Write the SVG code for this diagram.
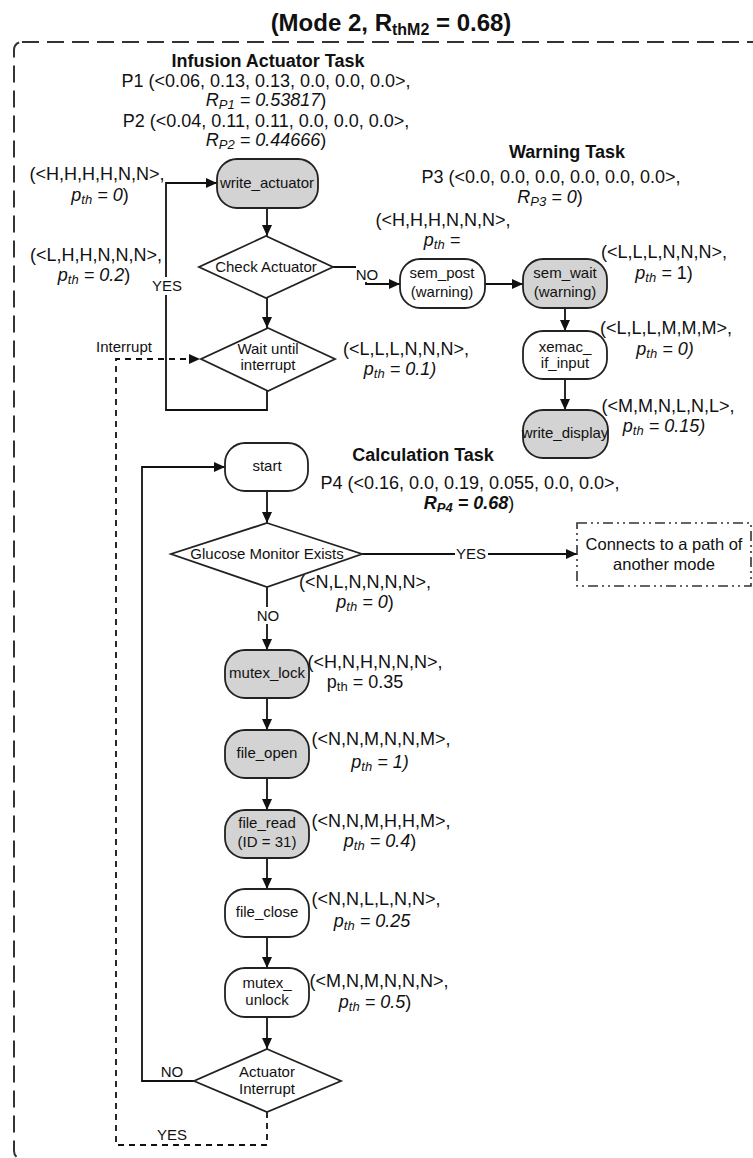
<svg xmlns="http://www.w3.org/2000/svg" width="753" height="1158" viewBox="0 0 753 1158">
<defs>
<marker id="ah" markerUnits="userSpaceOnUse" markerWidth="12" markerHeight="10" refX="11" refY="5" orient="auto">
<path d="M0,0 L11,5 L0,10 z" fill="#111"/>
</marker>
<style>
text{font-family:"Liberation Sans",Arial,sans-serif;fill:#111}
.lbl{font-size:18px;text-anchor:middle}
.hd{font-size:18px;font-weight:bold;text-anchor:middle}
.nt{font-size:15px;text-anchor:middle}
.it{font-style:italic}
.sb{font-size:13px}
.box{stroke:#222;stroke-width:1.8}
.g{fill:#d3d3d3}
.w{fill:#fff}
.ln{fill:none;stroke:#111;stroke-width:1.8}
.dl{fill:none;stroke:#111;stroke-width:1.8;stroke-dasharray:6,5}
</style>
</defs>
<rect width="753" height="1158" fill="#fff"/>
<g id="frame">
<rect x="14" y="42" width="800" height="1117" rx="8" fill="none" stroke="#333" stroke-width="2" stroke-dasharray="17,8"/>
<text x="391" y="31" text-anchor="middle" font-size="24" font-weight="bold">(Mode 2, R<tspan font-size="16" dy="4">thM2</tspan><tspan dy="-4"> = 0.68)</tspan></text>
</g>
<g id="headers">
<text class="hd" x="268" y="67">Infusion Actuator Task</text>
<text class="lbl" x="266" y="87">P1 (&lt;0.06, 0.13, 0.13, 0.0, 0.0, 0.0&gt;,</text>
<text class="lbl" x="266" y="106"><tspan class="it">R<tspan class="sb" dy="3">P1</tspan><tspan dy="-3"> = 0.53817</tspan></tspan>)</text>
<text class="lbl" x="266" y="127">P2 (&lt;0.04, 0.11, 0.11, 0.0, 0.0, 0.0&gt;,</text>
<text class="lbl" x="266" y="146"><tspan class="it">R<tspan class="sb" dy="3">P2</tspan><tspan dy="-3"> = 0.44666</tspan></tspan>)</text>
<text class="hd" x="567" y="158">Warning Task</text>
<text class="lbl" x="551" y="183">P3 (&lt;0.0, 0.0, 0.0, 0.0, 0.0, 0.0&gt;,</text>
<text class="lbl" x="550" y="203"><tspan class="it">R<tspan class="sb" dy="3">P3</tspan><tspan dy="-3"> = 0</tspan></tspan>)</text>
<text class="hd" x="423" y="461">Calculation Task</text>
<text class="lbl" x="470" y="489">P4 (&lt;0.16, 0.0, 0.19, 0.055, 0.0, 0.0&gt;,</text>
<text class="lbl" x="469" y="509"><tspan class="it" font-weight="bold">R<tspan class="sb" dy="3">P4</tspan><tspan dy="-3"> = 0.68</tspan></tspan>)</text>
</g>
<g id="connectors">
<path class="ln" d="M267,208 V236" marker-end="url(#ah)"/>
<path class="ln" d="M267,298 V328" marker-end="url(#ah)"/>
<path class="ln" d="M267,391 V410 H166 V183 H217" marker-end="url(#ah)"/>
<path class="ln" d="M333,267 H366 V284 H400" marker-end="url(#ah)"/>
<path class="ln" d="M485,284 H523" marker-end="url(#ah)"/>
<path class="ln" d="M565,308 V331" marker-end="url(#ah)"/>
<path class="ln" d="M565,379 V410" marker-end="url(#ah)"/>
<path class="dl" d="M267,1112 V1145 H116 V359 H200" marker-end="url(#ah)"/>
<path class="ln" d="M267,491 V523" marker-end="url(#ah)"/>
<path class="ln" d="M362,554 H577" marker-end="url(#ah)"/>
<path class="ln" d="M267,587 V650" marker-end="url(#ah)"/>
<path class="ln" d="M267,698 V730" marker-end="url(#ah)"/>
<path class="ln" d="M267,778 V810" marker-end="url(#ah)"/>
<path class="ln" d="M267,858 V889" marker-end="url(#ah)"/>
<path class="ln" d="M267,937 V968" marker-end="url(#ah)"/>
<path class="ln" d="M267,1017 V1049" marker-end="url(#ah)"/>
<path class="ln" d="M194,1081 H142 V467 H225" marker-end="url(#ah)"/>
<rect x="152" y="277" width="31" height="18" fill="#fff"/>
<text class="nt" x="167" y="291">YES</text>
<rect x="356" y="266" width="23" height="16" fill="#fff"/>
<text class="nt" x="367" y="280">NO</text>
<rect x="455" y="546" width="33" height="17" fill="#fff"/>
<text class="nt" x="471" y="559">YES</text>
<rect x="256" y="607" width="23" height="17" fill="#fff"/>
<text class="nt" x="268" y="621">NO</text>
<text class="nt" x="124" y="352">Interrupt</text>
<text class="nt" x="172" y="1077">NO</text>
<text class="nt" x="172" y="1140">YES</text>
</g>
<g id="write_actuator">
<rect class="box g" x="217" y="159" width="101" height="49" rx="20"/>
<text class="nt" x="267" y="188">write_actuator</text>
<text class="lbl" x="97" y="180">(&lt;H,H,H,H,N,N&gt;,</text>
<text class="lbl" x="100" y="201"><tspan class="it">p<tspan class="sb" dy="3">th</tspan><tspan dy="-3"> = 0</tspan></tspan>)</text>
</g>
<g id="check_actuator">
<polygon class="box w" points="266,236 333,267 266,298 199,267"/>
<text class="nt" x="266" y="272">Check Actuator</text>
<text class="lbl" x="96" y="261">(&lt;L,H,H,N,N,N&gt;,</text>
<text class="lbl" x="94" y="281"><tspan class="it">p<tspan class="sb" dy="3">th</tspan><tspan dy="-3"> = 0.2</tspan></tspan>)</text>
</g>
<g id="wait_interrupt">
<polygon class="box w" points="268,328 335,359 268,391 201,359"/>
<text class="nt" x="268" y="354">Wait until</text>
<text class="nt" x="268" y="370">interrupt</text>
<text class="lbl" x="406" y="355">(&lt;L,L,L,N,N,N&gt;,</text>
<text class="lbl" x="400" y="375"><tspan class="it">p<tspan class="sb" dy="3">th</tspan><tspan dy="-3"> = 0.1)</tspan></tspan></text>
</g>
<g id="sem_post">
<rect class="box w" x="400" y="259" width="85" height="49" rx="20"/>
<text class="nt" x="442" y="278">sem_post</text>
<text class="nt" x="442" y="297">(warning)</text>
<text class="lbl" x="443" y="226">(&lt;H,H,H,N,N,N&gt;,</text>
<text class="lbl" x="442" y="246"><tspan class="it">p<tspan class="sb" dy="3">th</tspan><tspan dy="-3"> =</tspan></tspan></text>
</g>
<g id="sem_wait">
<rect class="box g" x="523" y="259" width="84" height="49" rx="20"/>
<text class="nt" x="565" y="278">sem_wait</text>
<text class="nt" x="565" y="297">(warning)</text>
<text class="lbl" x="664" y="258">(&lt;L,L,L,N,N,N&gt;,</text>
<text class="lbl" x="664" y="279"><tspan class="it">p<tspan class="sb" dy="3">th</tspan><tspan dy="-3"> = </tspan></tspan>1)</text>
</g>
<g id="xemac_if_input">
<rect class="box w" x="523" y="331" width="84" height="48" rx="20"/>
<text class="nt" x="565" y="352">xemac_</text>
<text class="nt" x="565" y="368">if_input</text>
<text class="lbl" x="666" y="334">(&lt;L,L,L,M,M,M&gt;,</text>
<text class="lbl" x="665" y="355"><tspan class="it">p<tspan class="sb" dy="3">th</tspan><tspan dy="-3"> = 0)</tspan></tspan></text>
</g>
<g id="write_display">
<rect class="box g" x="523" y="410" width="85" height="48" rx="20"/>
<text class="nt" x="565" y="438">write_display</text>
<text class="lbl" x="668" y="412">(&lt;M,M,N,L,N,L&gt;,</text>
<text class="lbl" x="664" y="432"><tspan class="it">p<tspan class="sb" dy="3">th</tspan><tspan dy="-3"> = 0.15)</tspan></tspan></text>
</g>
<g id="start">
<rect class="box w" x="225" y="443" width="83" height="48" rx="20"/>
<text class="nt" x="267" y="471">start</text>
</g>
<g id="glucose_monitor">
<polygon class="box w" points="267,523 362,554 267,587 171,554"/>
<text class="nt" x="267" y="559">Glucose Monitor Exists</text>
<text class="lbl" x="365" y="588">(&lt;N,L,N,N,N,N&gt;,</text>
<text class="lbl" x="365" y="608"><tspan class="it">p<tspan class="sb" dy="3">th</tspan><tspan dy="-3"> =  0</tspan></tspan>)</text>
</g>
<g id="other_mode">
<rect x="577" y="523" width="174" height="63" fill="#fff" stroke="#333" stroke-width="1.6" stroke-dasharray="10,4,2,4,2,4"/>
<text x="664" y="550" text-anchor="middle" font-size="16.5">Connects to a path of</text>
<text x="664" y="570" text-anchor="middle" font-size="16.5">another mode</text>
</g>
<g id="mutex_lock">
<rect class="box g" x="225" y="650" width="84" height="48" rx="20"/>
<text class="nt" x="267" y="678">mutex_lock</text>
<text class="lbl" x="375" y="668">(&lt;H,N,H,N,N,N&gt;,</text>
<text class="lbl" x="365" y="688">p<tspan class="sb" dy="3">th</tspan><tspan dy="-3"> = 0.35</tspan></text>
</g>
<g id="file_open">
<rect class="box g" x="225" y="730" width="84" height="48" rx="20"/>
<text class="nt" x="267" y="758">file_open</text>
<text class="lbl" x="381" y="745">(&lt;N,N,M,N,N,M&gt;,</text>
<text class="lbl" x="380" y="768"><tspan class="it">p<tspan class="sb" dy="3">th</tspan><tspan dy="-3"> = 1)</tspan></tspan></text>
</g>
<g id="file_read">
<rect class="box g" x="225" y="810" width="84" height="48" rx="20"/>
<text class="nt" x="267" y="828">file_read</text>
<text class="nt" x="267" y="847">(ID = 31)</text>
<text class="lbl" x="381" y="827">(&lt;N,N,M,H,H,M&gt;,</text>
<text class="lbl" x="380" y="847"><tspan class="it">p<tspan class="sb" dy="3">th</tspan><tspan dy="-3"> = 0.4</tspan></tspan>)</text>
</g>
<g id="file_close">
<rect class="box w" x="225" y="889" width="84" height="48" rx="20"/>
<text class="nt" x="267" y="917">file_close</text>
<text class="lbl" x="376" y="905">(&lt;N,N,L,L,N,N&gt;,</text>
<text class="lbl" x="372" y="927"><tspan class="it">p<tspan class="sb" dy="3">th</tspan><tspan dy="-3"> = 0.25</tspan></tspan></text>
</g>
<g id="mutex_unlock">
<rect class="box w" x="225" y="968" width="84" height="49" rx="20"/>
<text class="nt" x="267" y="988">mutex_</text>
<text class="nt" x="267" y="1005">unlock</text>
<text class="lbl" x="379" y="987">(&lt;M,N,M,N,N,N&gt;,</text>
<text class="lbl" x="375" y="1008"><tspan class="it">p<tspan class="sb" dy="3">th</tspan><tspan dy="-3"> = 0.5</tspan></tspan>)</text>
</g>
<g id="actuator_interrupt">
<polygon class="box w" points="267,1049 341,1081 267,1112 194,1081"/>
<text class="nt" x="267" y="1077">Actuator</text>
<text class="nt" x="267" y="1094">Interrupt</text>
</g>
</svg>
